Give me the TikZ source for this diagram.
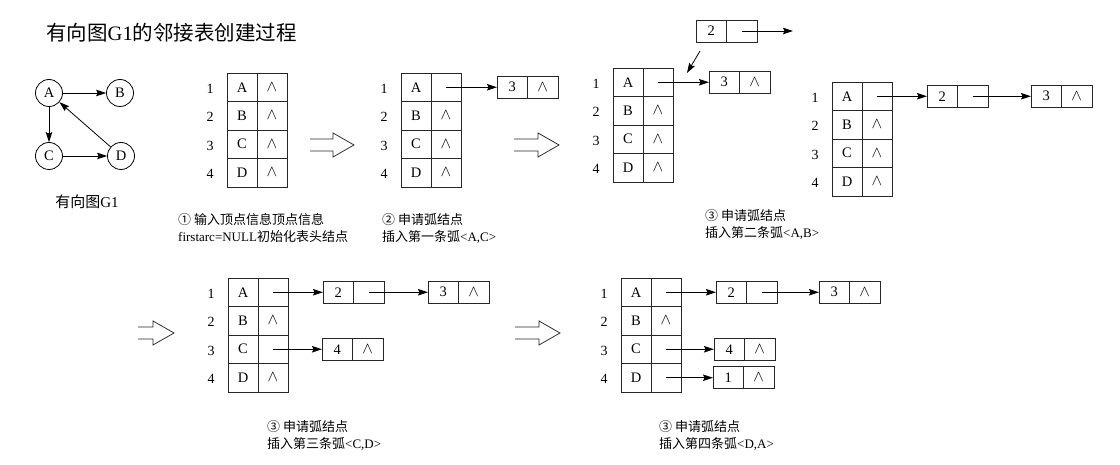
\documentclass[tikz,border=0pt]{standalone}
\usepackage{fontspec}
\usepackage{graphicx}
\setmainfont{Liberation Serif}
\newfontfamily\cjk{Noto Sans CJK SC}
\usetikzlibrary{arrows.meta}
\newcommand{\zh}[1]{{\cjk #1}}
\newcommand{\nul}{\raisebox{1pt}{\scalebox{1.1}{$\wedge$}}}
\tikzset{
  cell/.style={draw=black!85, line width=0.9pt, minimum width=30pt, minimum height=28.5pt, inner sep=0pt, outer sep=0pt, font=\fontsize{14.5}{14.5}\selectfont},
  lcell/.style={draw=black!85, line width=0.9pt, minimum width=30.5pt, minimum height=22pt, inner sep=0pt, outer sep=0pt, font=\fontsize{14.5}{14.5}\selectfont},
  rownum/.style={font=\fontsize{14}{14}\selectfont, inner sep=0pt},
  vtx/.style={circle, draw, line width=0.8pt, minimum size=27pt, inner sep=0pt, font=\fontsize{14.5}{14.5}\selectfont},
  arr/.style={line width=0.8pt, -{Stealth[length=10pt,width=6.5pt,inset=1.5pt]}},
  caption/.style={anchor=west, align=left, inner sep=0pt, font=\fontsize{13}{17}\selectfont},
  hollow/.style={line width=0.8pt, draw=black!85},
}
% prefix, x left, y top, pointer cells 1..4
\newcommand{\headtable}[7]{%
  \foreach \v/\t [count=\i] in {A/#4,B/#5,C/#6,D/#7}{%
    \node[cell] (#1v\i) at ({#2+15},{#3+(\i-0.5)*28.5}) {\v};
    \node[cell] (#1p\i) at ({#2+45},{#3+(\i-0.5)*28.5}) {\t};
    \node[rownum] (#1n\i) at ({#2-17},{#3+(\i-0.5)*28.5+1.5}) {\i};
  }}
% name, x left, y centre, data, pointer
\newcommand{\lnode}[5]{%
  \node[lcell] (#1d) at ({#2+15.25},{#3}) {#4};
  \node[lcell] (#1p) at ({#2+45.75},{#3}) {#5};}
% x start, shaft length, y centre
\newcommand{\hollowarrow}[3]{%
  \draw[hollow] ({#1},{#3-6}) -- ++(#2,0) -- ++(0,-6) -- ++(21,12) -- ++(-21,12) -- ++(0,-6) -- ++(-#2,0);}
\begin{document}
\begin{tikzpicture}[x=1pt,y=-1pt]
\useasboundingbox (0,0) rectangle (1120,465);
% title
\node[anchor=west, inner sep=0pt, font=\fontsize{20.5}{20.5}\selectfont] (title) at (46,33) {\zh{有向图}G1\zh{的邻接表创建过程}};
% graph G1
\node[vtx] (A) at (49,93) {A};
\node[vtx] (B) at (120,93) {B};
\node[vtx] (C) at (49,156) {C};
\node[vtx] (D) at (121,156) {D};
\draw[arr] (A) -- (B);
\draw[arr] (A) -- (C);
\draw[arr] (C) -- (D);
\draw[arr] (D) -- (A);
\node[inner sep=0pt, font=\fontsize{15}{15}\selectfont] (glabel) at (87,202) {\zh{有向图}G1};
% step 1
\headtable{ta}{227}{73}{\nul}{\nul}{\nul}{\nul}
\hollowarrow{310}{23}{145}
\node[caption] (cap1) at (178,228.5) {\zh{① 输入顶点信息顶点信息}\\firstarc=NULL\zh{初始化表头结点}};
% step 2
\headtable{tb}{401}{73}{}{\nul}{\nul}{\nul}
\lnode{lb}{497}{87.25}{3}{\nul}
\draw[arr] (tbp1.center) -- (lbd.west);
\hollowarrow{514}{24}{145}
\node[caption] (cap2) at (382,228.5) {\zh{② 申请弧结点}\\\zh{插入第一条弧}<A,C>};
% step 3
\headtable{tc}{613}{68}{}{\nul}{\nul}{\nul}
\lnode{lc}{709}{82.25}{3}{\nul}
\draw[arr] (tcp1.center) -- (lcd.west);
\lnode{ln}{696}{31}{2}{}
\coordinate (lnend) at (793,31);
\draw[arr] (lnp.center) -- (lnend);
\coordinate (dgs) at (700,51);
\coordinate (dge) at (687,73);
\draw[arr] (dgs) -- (dge);
\node[caption] (cap3) at (705,225) {\zh{③ 申请弧结点}\\\zh{插入第二条弧}<A,B>};
% step 3 result
\headtable{td}{832}{82}{}{\nul}{\nul}{\nul}
\lnode{ldx}{927}{96.25}{2}{}
\lnode{ldy}{1031}{96.25}{3}{\nul}
\draw[arr] (tdp1.center) -- (ldxd.west);
\draw[arr] (ldxp.center) -- (ldyd.west);
% step 4
\hollowarrow{138}{15}{333}
\headtable{te}{228}{278}{}{\nul}{}{\nul}
\lnode{lex}{323}{292.25}{2}{}
\lnode{ley}{428}{292.25}{3}{\nul}
\lnode{lez}{322}{349.25}{4}{\nul}
\draw[arr] (tep1.center) -- (lexd.west);
\draw[arr] (lexp.center) -- (leyd.west);
\draw[arr] (tep3.center) -- (lezd.west);
\node[caption] (cap4) at (267,435.5) {\zh{③ 申请弧结点}\\\zh{插入第三条弧}<C,D>};
% step 5
\hollowarrow{515}{24}{333}
\headtable{tf}{621}{278}{}{\nul}{}{}
\lnode{lfx}{716}{292.25}{2}{}
\lnode{lfy}{819}{292.25}{3}{\nul}
\lnode{lfz}{714}{349.25}{4}{\nul}
\lnode{lfw}{713}{377.75}{1}{\nul}
\draw[arr] (tfp1.center) -- (lfxd.west);
\draw[arr] (lfxp.center) -- (lfyd.west);
\draw[arr] (tfp3.center) -- (lfzd.west);
\draw[arr] (tfp4.center) -- (lfwd.west);
\node[caption] (cap5) at (659,435.5) {\zh{③ 申请弧结点}\\\zh{插入第四条弧}<D,A>};
\end{tikzpicture}
\end{document}
